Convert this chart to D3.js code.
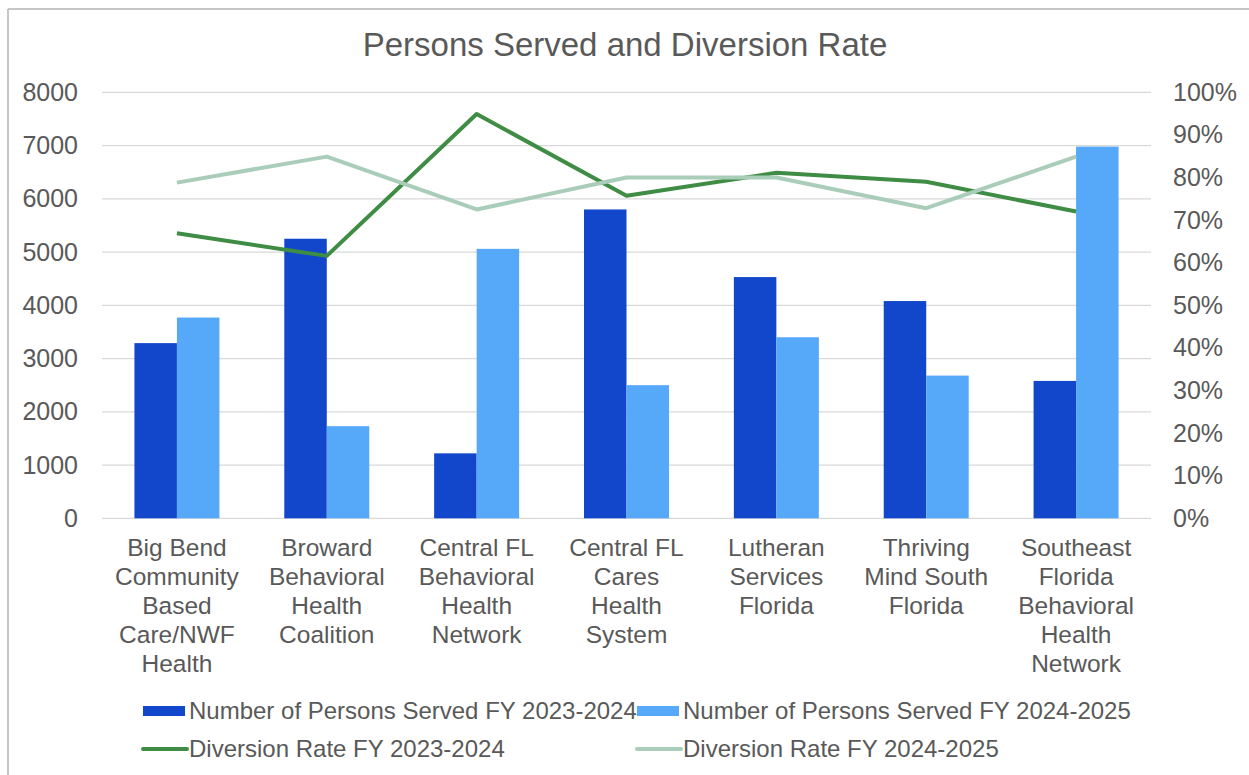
<!DOCTYPE html>
<html><head><meta charset="utf-8">
<script src="https://cdn.jsdelivr.net/npm/d3@7"></script>
<style>body{margin:0;background:#fff;} text{font-family:"Liberation Sans",Arial,sans-serif;fill:#595959;}</style>
</head><body>
<svg id="chart" width="1249" height="775"></svg>
<script>
const categories = [
  ["Big Bend","Community","Based","Care/NWF","Health"],
  ["Broward","Behavioral","Health","Coalition"],
  ["Central FL","Behavioral","Health","Network"],
  ["Central FL","Cares","Health","System"],
  ["Lutheran","Services","Florida"],
  ["Thriving","Mind South","Florida"],
  ["Southeast","Florida","Behavioral","Health","Network"]
];
const served2324 = [3290, 5250, 1220, 5800, 4530, 4080, 2580];
const served2425 = [3770, 1730, 5060, 2500, 3400, 2680, 6980];
const rate2324 = [0.669, 0.616, 0.949, 0.757, 0.811, 0.790, 0.720];
const rate2425 = [0.788, 0.849, 0.725, 0.800, 0.800, 0.728, 0.849];
const leftTicks = [0,1000,2000,3000,4000,5000,6000,7000,8000];
const rightTicks = [0,0.1,0.2,0.3,0.4,0.5,0.6,0.7,0.8,0.9,1.0];
const seriesNames = ["Number of Persons Served FY 2023-2024","Number of Persons Served FY 2024-2025","Diversion Rate FY 2023-2024","Diversion Rate FY 2024-2025"];
const colors = ["#1247cc","#56a9f8","#3f8c44","#a9cdb9"];

const svg = d3.select("#chart");
// frame
svg.append("line").attr("x1",8).attr("x2",8).attr("y1",9).attr("y2",775).attr("stroke","#c6c6c6").attr("stroke-width",2);
svg.append("line").attr("x1",8).attr("x2",1249).attr("y1",9).attr("y2",9).attr("stroke","#c6c6c6").attr("stroke-width",2);

const L = 102, R = 1151, T = 92.3, B = 518.3;
const idx = d3.range(categories.length);
const x = d3.scaleBand().domain(idx).range([L,R]).padding(0);
const x1 = d3.scaleBand().domain([0,1]).range([0,x.bandwidth()]).paddingInner(0).paddingOuter(0.763);
const y = d3.scaleLinear().domain([0,8000]).range([B,T]);
const y2 = d3.scaleLinear().domain([0,1]).range([B,T]);

svg.append("text").attr("x",625).attr("y",56).attr("text-anchor","middle").attr("font-size",33).text("Persons Served and Diversion Rate");

// gridlines
svg.append("g").selectAll("line").data(leftTicks).join("line")
  .attr("x1",L).attr("x2",R).attr("y1",d=>y(d)).attr("y2",d=>y(d))
  .attr("stroke","#d9d9d9").attr("stroke-width",1.3);

// left axis
const la = svg.append("g").attr("transform",`translate(${L},0)`)
  .call(d3.axisLeft(y).tickValues(leftTicks).tickSize(0).tickPadding(24).tickFormat(d3.format("d")));
la.select(".domain").remove();
la.selectAll("text").attr("font-size",25).style("font-family","Liberation Sans, Arial, sans-serif").attr("fill","#595959");

// right axis
const ra = svg.append("g").attr("transform",`translate(${R},0)`)
  .call(d3.axisRight(y2).tickValues(rightTicks).tickSize(0).tickPadding(22).tickFormat(d3.format(".0%")));
ra.select(".domain").remove();
ra.selectAll("text").attr("font-size",25).style("font-family","Liberation Sans, Arial, sans-serif").attr("fill","#595959");

// bars
const g = svg.append("g");
[served2324, served2425].forEach((arr,s)=>{
  g.append("g").selectAll("rect").data(arr).join("rect")
    .attr("x",(d,i)=>x(i)+x1(s)).attr("width",x1.bandwidth())
    .attr("y",d=>y(d)).attr("height",d=>B-y(d)).attr("fill",colors[s]);
});

// lines
const line = d3.line().x((d,i)=>x(i)+x.bandwidth()/2).y(d=>y2(d));
[rate2324, rate2425].forEach((arr,s)=>{
  svg.append("path").datum(arr).attr("d",line).attr("fill","none")
    .attr("stroke",colors[s+2]).attr("stroke-width",4).attr("stroke-linejoin","round");
});

// category labels
const cl = svg.append("g");
categories.forEach((lines,i)=>{
  const t = cl.append("text").attr("text-anchor","middle").attr("font-size",24.5);
  lines.forEach((ln,j)=>{
    t.append("tspan").attr("x",x(i)+x.bandwidth()/2).attr("y",556+j*29).text(ln);
  });
});

// legend
const leg = [
  {x:143,y:711,type:"rect"},
  {x:637,y:711,type:"rect"},
  {x:143,y:749,type:"line"},
  {x:637,y:749,type:"line"}
];
leg.forEach((p,k)=>{
  if(p.type==="rect"){
    svg.append("rect").attr("x",p.x).attr("y",p.y-5).attr("width",42).attr("height",10).attr("fill",colors[k]);
  } else {
    svg.append("line").attr("x1",p.x).attr("x2",p.x+44).attr("y1",p.y).attr("y2",p.y).attr("stroke",colors[k]).attr("stroke-width",4).attr("stroke-linecap","round");
  }
  svg.append("text").attr("x",p.x+46).attr("y",p.y+8).attr("font-size",24).text(seriesNames[k]);
});
</script>
</body></html>
